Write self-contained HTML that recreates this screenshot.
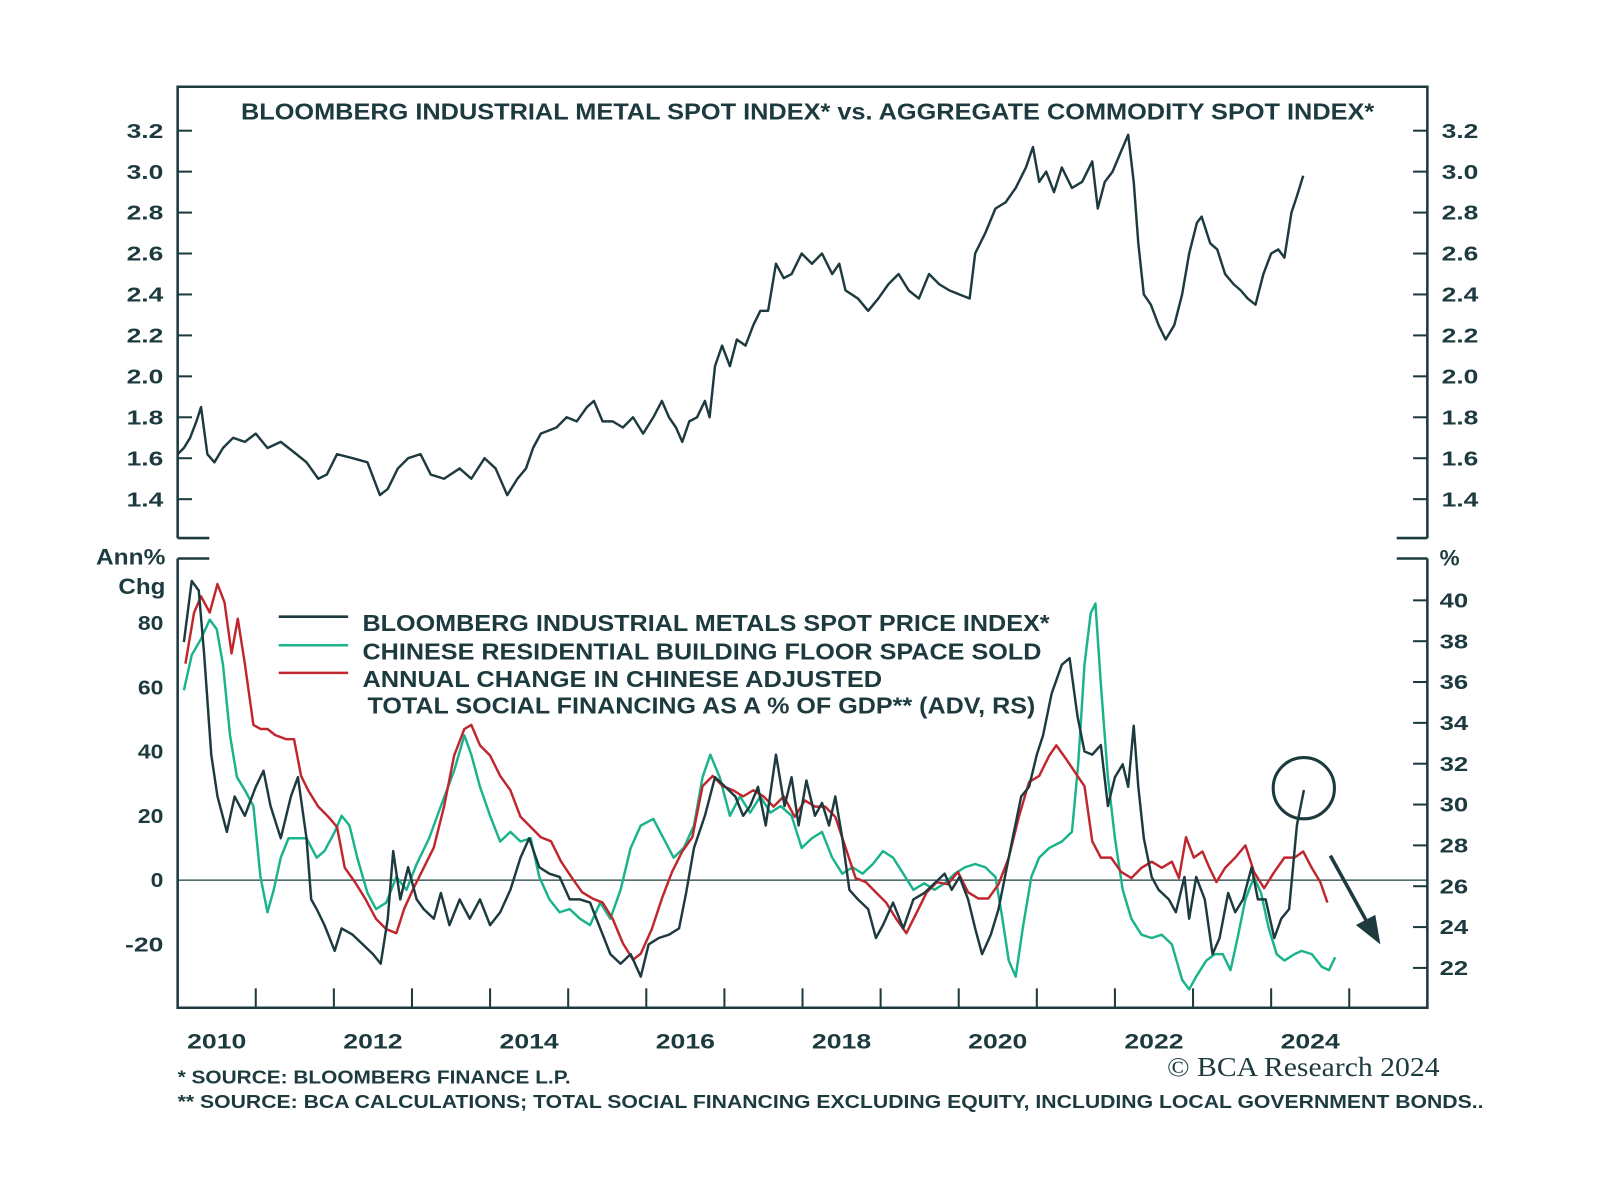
<!DOCTYPE html>
<html><head><meta charset="utf-8"><style>
html,body{margin:0;padding:0;background:#fff;}
svg{display:block;}
text{font-family:"Liberation Sans",sans-serif;fill:#1d3b3f;}
.b{font-weight:bold;}
</style></head><body>
<svg width="1600" height="1177" viewBox="0 0 1600 1177"><g id="chart" transform="scale(1.021)"></g></svg>
<script>
// ---- data ----
const topDates=[2010.00,2010.08,2010.16,2010.24,2010.30,2010.38,2010.47,2010.58,2010.71,2010.86,2011.00,2011.15,2011.32,2011.52,2011.65,2011.80,2011.91,2012.04,2012.24,2012.43,2012.51,2012.59,2012.69,2012.82,2012.95,2013.11,2013.24,2013.41,2013.61,2013.76,2013.93,2014.07,2014.22,2014.35,2014.46,2014.55,2014.65,2014.85,2014.98,2015.11,2015.24,2015.33,2015.44,2015.57,2015.70,2015.83,2015.96,2016.09,2016.20,2016.29,2016.38,2016.46,2016.55,2016.65,2016.75,2016.81,2016.88,2016.97,2017.07,2017.16,2017.27,2017.37,2017.46,2017.56,2017.66,2017.76,2017.86,2017.99,2018.12,2018.25,2018.38,2018.47,2018.55,2018.71,2018.84,2018.97,2019.10,2019.23,2019.36,2019.49,2019.62,2019.75,2019.88,2020.01,2020.14,2020.21,2020.34,2020.47,2020.60,2020.73,2020.86,2020.95,2021.03,2021.12,2021.22,2021.32,2021.45,2021.58,2021.71,2021.78,2021.87,2021.97,2022.08,2022.17,2022.24,2022.30,2022.37,2022.46,2022.56,2022.65,2022.76,2022.86,2022.95,2023.05,2023.11,2023.22,2023.31,2023.41,2023.52,2023.61,2023.70,2023.80,2023.90,2024.00,2024.09,2024.17,2024.26,2024.33,2024.41];
const topValues=[1.62,1.65,1.70,1.78,1.85,1.62,1.58,1.65,1.70,1.68,1.72,1.65,1.68,1.62,1.58,1.50,1.52,1.62,1.60,1.58,1.50,1.42,1.45,1.55,1.60,1.62,1.52,1.50,1.55,1.50,1.60,1.55,1.42,1.50,1.55,1.65,1.72,1.75,1.80,1.78,1.85,1.88,1.78,1.78,1.75,1.80,1.72,1.80,1.88,1.80,1.75,1.68,1.78,1.80,1.88,1.80,2.05,2.15,2.05,2.18,2.15,2.25,2.32,2.32,2.55,2.48,2.50,2.60,2.55,2.60,2.50,2.55,2.42,2.38,2.32,2.38,2.45,2.50,2.42,2.38,2.50,2.45,2.42,2.40,2.38,2.60,2.70,2.82,2.85,2.92,3.02,3.12,2.95,3.00,2.90,3.02,2.92,2.95,3.05,2.82,2.95,3.00,3.10,3.18,2.95,2.65,2.40,2.35,2.25,2.18,2.25,2.40,2.60,2.75,2.78,2.65,2.62,2.50,2.45,2.42,2.38,2.35,2.50,2.60,2.62,2.58,2.80,2.88,2.98];
const metalsDates=[2010.08,2010.18,2010.27,2010.34,2010.43,2010.51,2010.63,2010.73,2010.86,2011.00,2011.10,2011.19,2011.32,2011.45,2011.54,2011.65,2011.71,2011.78,2011.88,2012.01,2012.10,2012.24,2012.37,2012.50,2012.60,2012.69,2012.76,2012.85,2012.95,2013.06,2013.15,2013.28,2013.37,2013.48,2013.61,2013.74,2013.87,2014.00,2014.13,2014.26,2014.39,2014.50,2014.63,2014.76,2014.89,2015.02,2015.15,2015.28,2015.41,2015.54,2015.67,2015.80,2015.93,2016.03,2016.16,2016.29,2016.42,2016.51,2016.61,2016.75,2016.88,2017.01,2017.14,2017.24,2017.33,2017.43,2017.53,2017.66,2017.77,2017.86,2017.95,2018.05,2018.16,2018.25,2018.34,2018.42,2018.51,2018.60,2018.71,2018.84,2018.94,2019.03,2019.16,2019.29,2019.42,2019.56,2019.69,2019.82,2019.91,2020.01,2020.12,2020.21,2020.30,2020.41,2020.51,2020.60,2020.69,2020.80,2020.90,2021.00,2021.08,2021.19,2021.32,2021.42,2021.52,2021.61,2021.71,2021.82,2021.91,2022.00,2022.10,2022.17,2022.24,2022.30,2022.37,2022.47,2022.56,2022.69,2022.78,2022.89,2022.95,2023.04,2023.15,2023.25,2023.34,2023.45,2023.54,2023.64,2023.75,2023.83,2023.93,2024.04,2024.13,2024.23,2024.33,2024.42];
const metalsValues=[74,93,90,70,39,26,15,26,20,29,34,23,13,26,32,13,-6,-9,-14,-22,-15,-17,-20,-23,-26,-12,9,-6,4,-6,-9,-12,-4,-14,-6,-12,-6,-14,-10,-3,7,13,4,2,1,-6,-6,-7,-15,-23,-26,-23,-30,-20,-18,-17,-15,-4,10,20,32,29,26,20,23,29,17,39,23,32,17,31,20,24,17,26,13,-3,-6,-9,-18,-14,-7,-15,-6,-4,-1,2,-3,1,-6,-15,-23,-17,-9,2,13,26,29,39,45,58,67,69,51,40,39,42,23,32,36,29,48,29,13,1,-3,-6,-10,1,-12,1,-6,-23,-18,-4,-10,-6,4,-6,-6,-18,-12,-9,17,28];
const floorDates=[2010.08,2010.18,2010.30,2010.41,2010.50,2010.58,2010.67,2010.76,2010.86,2010.97,2011.06,2011.15,2011.23,2011.32,2011.42,2011.54,2011.65,2011.78,2011.88,2012.01,2012.10,2012.20,2012.30,2012.43,2012.54,2012.67,2012.80,2012.93,2013.06,2013.22,2013.37,2013.54,2013.67,2013.76,2013.87,2014.00,2014.13,2014.26,2014.39,2014.52,2014.63,2014.76,2014.89,2015.02,2015.15,2015.28,2015.41,2015.54,2015.67,2015.80,2015.93,2016.09,2016.22,2016.35,2016.48,2016.61,2016.72,2016.82,2016.94,2017.07,2017.20,2017.33,2017.46,2017.59,2017.72,2017.86,2017.99,2018.12,2018.25,2018.38,2018.51,2018.64,2018.77,2018.90,2019.03,2019.16,2019.29,2019.42,2019.56,2019.69,2019.82,2019.95,2020.08,2020.21,2020.34,2020.47,2020.56,2020.64,2020.73,2020.82,2020.93,2021.03,2021.16,2021.32,2021.45,2021.53,2021.61,2021.69,2021.75,2021.82,2021.91,2022.00,2022.10,2022.21,2022.34,2022.47,2022.60,2022.73,2022.86,2022.95,2023.04,2023.17,2023.28,2023.38,2023.48,2023.57,2023.67,2023.78,2023.87,2023.97,2024.07,2024.17,2024.30,2024.39,2024.52,2024.65,2024.74,2024.82];
const floorValues=[59,70,75,81,78,67,45,32,28,23,1,-10,-3,7,13,13,13,7,9,15,20,17,7,-4,-9,-7,1,-3,5,13,23,34,45,39,29,20,12,15,12,13,1,-6,-10,-9,-12,-14,-7,-12,-3,10,17,19,13,7,10,17,32,39,32,20,26,21,26,21,23,20,10,13,15,7,2,4,2,5,9,7,2,-3,-1,-3,-1,2,4,5,4,1,-12,-25,-30,-15,1,7,10,12,15,36,67,83,86,61,32,13,-3,-12,-17,-18,-17,-20,-31,-34,-30,-25,-23,-23,-28,-18,-6,1,-4,-15,-23,-25,-23,-22,-23,-27,-28,-24];
const tsfDates=[2010.10,2010.21,2010.30,2010.41,2010.51,2010.60,2010.69,2010.77,2010.86,2010.97,2011.06,2011.15,2011.25,2011.39,2011.49,2011.58,2011.67,2011.80,2011.93,2012.04,2012.14,2012.27,2012.40,2012.54,2012.67,2012.80,2012.90,2013.02,2013.15,2013.28,2013.41,2013.54,2013.67,2013.76,2013.87,2014.00,2014.13,2014.26,2014.39,2014.52,2014.65,2014.78,2014.91,2015.05,2015.18,2015.31,2015.44,2015.57,2015.70,2015.83,2015.93,2016.07,2016.20,2016.33,2016.46,2016.59,2016.72,2016.85,2016.98,2017.11,2017.24,2017.37,2017.50,2017.63,2017.76,2017.90,2018.03,2018.16,2018.29,2018.42,2018.55,2018.68,2018.81,2018.94,2019.07,2019.20,2019.33,2019.46,2019.59,2019.72,2019.86,2019.99,2020.12,2020.25,2020.38,2020.51,2020.64,2020.77,2020.90,2021.03,2021.16,2021.25,2021.38,2021.52,2021.61,2021.71,2021.82,2021.95,2022.08,2022.21,2022.34,2022.47,2022.60,2022.73,2022.82,2022.91,2023.01,2023.12,2023.21,2023.30,2023.41,2023.54,2023.67,2023.78,2023.91,2024.04,2024.17,2024.30,2024.41,2024.52,2024.63,2024.72];
const tsfValues=[36.9,39.4,40.2,39.4,40.8,39.9,37.4,39.1,36.9,33.9,33.7,33.7,33.4,33.2,33.2,31.4,30.7,29.9,29.4,28.9,26.9,26.2,25.4,24.4,23.9,23.7,24.9,25.9,26.9,27.9,29.9,32.4,33.7,33.9,32.9,32.4,31.4,30.7,29.4,28.9,28.4,28.2,27.2,26.4,25.7,25.4,25.2,24.4,23.2,22.4,22.7,23.9,25.4,26.7,27.7,28.4,30.9,31.4,30.9,30.7,30.4,30.7,30.4,29.9,30.4,29.4,30.2,29.9,29.9,29.4,27.9,26.4,26.2,25.7,25.2,24.4,23.7,24.7,25.7,26.2,26.1,26.7,25.7,25.4,25.4,26.1,27.4,29.4,31.1,31.4,32.4,32.9,32.2,31.4,30.9,28.2,27.4,27.4,26.7,26.4,26.9,27.2,26.9,27.2,26.4,28.4,27.4,27.7,26.9,26.2,26.9,27.4,28.0,26.7,25.9,26.7,27.4,27.4,27.7,26.9,26.2,25.2];
const topTicks=[1.4,1.6,1.8,2.0,2.2,2.4,2.6,2.8,3.0,3.2];
const leftTicks=[-20,0,20,40,60,80];
const rightTicks=[22,24,26,28,30,32,34,36,38,40];
const yearLabels=[2010,2012,2014,2016,2018,2020,2022,2024];

// ---- axes ----
const L=174,R=1398;
const xS=t=>L+(t-2010)*76.5;
const yTop=v=>128+(3.2-v)/0.2*40.1;
const yLeft=v=>862-v*3.15;
const yRight=v=>948-(v-22)*20;
const NS='http://www.w3.org/2000/svg';
const svg=document.getElementById('chart');
function mk(tag,attrs,parent){const e=document.createElementNS(NS,tag);for(const k in attrs)e.setAttribute(k,attrs[k]);(parent||svg).appendChild(e);return e;}
const C='#1d3b3f';
const FIT='spacingAndGlyphs';

const fr=mk('path',{d:`M${L},527 L${L},85 L${R},85 L${R},527 M${L},527 L205,527 M1368,527 L${R},527 M${L},547 L205,547 M1368,547 L${R},547 M${L},547 L${L},987 L${R},987 L${R},547`,fill:'none',stroke:C,'stroke-width':2.5});



const title=mk('text',{x:236,y:117,'font-size':23,class:'b',textLength:1110,lengthAdjust:FIT});
title.textContent='BLOOMBERG INDUSTRIAL METAL SPOT INDEX* vs. AGGREGATE COMMODITY SPOT INDEX*';



topTicks.forEach(v=>{
  const y=yTop(v);
  const t1=mk('text',{x:124,y:y+7,'font-size':20,class:'b',textLength:36,lengthAdjust:FIT});t1.textContent=v.toFixed(1);
  
  
  const t2=mk('text',{x:1412,y:y+7,'font-size':20,class:'b',textLength:36,lengthAdjust:FIT});t2.textContent=v.toFixed(1);
  
  
  mk('line',{x1:L,x2:L+14,y1:y,y2:y,stroke:C,'stroke-width':2});
  mk('line',{x1:R-14,x2:R,y1:y,y2:y,stroke:C,'stroke-width':2});
});
leftTicks.forEach(v=>{
  const y=yLeft(v);
  const s=String(v);
  const t=mk('text',{x:160,y:y+7,'text-anchor':'end','font-size':20,class:'b',textLength:s.length*12.5,lengthAdjust:FIT});t.textContent=s;
  
  
});
rightTicks.forEach(v=>{
  const y=yRight(v);
  const t=mk('text',{x:1410,y:y+7,'font-size':20,class:'b',textLength:28,lengthAdjust:FIT});t.textContent=v;
  
  
  mk('line',{x1:R-14,x2:R,y1:y,y2:y,stroke:C,'stroke-width':2});
});
[['Ann%',94,553,68],['Chg',116,582,46]].forEach(a=>{const t=mk('text',{x:a[1],y:a[2],'font-size':22,class:'b',textLength:a[3],lengthAdjust:FIT});t.textContent=a[0];
  
  });
const pc=mk('text',{x:1410,y:554,'font-size':22,class:'b'});pc.textContent='%';



for(let yr=2011;yr<=2025;yr++){const x=xS(yr);mk('line',{x1:x,x2:x,y1:987,y2:968,stroke:C,'stroke-width':2});}
yearLabels.forEach(yr=>{const t=mk('text',{x:xS(yr+0.5)-29,y:1027,'font-size':21,class:'b',textLength:58,lengthAdjust:FIT});t.textContent=yr;
  
  });

const zl=mk('line',{x1:L,x2:R,y1:yLeft(0),y2:yLeft(0),stroke:C,'stroke-width':1.3});



function series(dates,vals,ys,color,name,w){
  const d=dates.map((t,i)=>(i?'L':'M')+xS(t).toFixed(1)+','+ys(vals[i]).toFixed(1)).join(' ');
  const p=mk('path',{d:d,fill:'none',stroke:color,'stroke-width':w,'stroke-linejoin':'round'});
  
  
}
series(topDates,topValues,yTop,C,'metal-vs-commodity-line',2.4);
series(floorDates,floorValues,yLeft,'#1ab38c','floor-space-line',2.4);
series(tsfDates,tsfValues,yRight,'#c0262d','tsf-line',2.4);
series(metalsDates,metalsValues,yLeft,C,'metals-yoy-line',2.4);

const leg=[['BLOOMBERG INDUSTRIAL METALS SPOT PRICE INDEX*',C,618,673],['CHINESE RESIDENTIAL BUILDING FLOOR SPACE SOLD','#1ab38c',646,665],['ANNUAL CHANGE IN CHINESE ADJUSTED','#c0262d',673,509]];
leg.forEach(l=>{
  const ln=mk('line',{x1:273,x2:341,y1:l[2]-14,y2:l[2]-14,stroke:l[1],'stroke-width':2.5});
  
  
  const t=mk('text',{x:355,y:l[2],'font-size':23,class:'b',textLength:l[3],lengthAdjust:FIT});t.textContent=l[0];
  
  
});
const l4=mk('text',{x:360,y:699,'font-size':23,class:'b',textLength:654,lengthAdjust:FIT});l4.textContent='TOTAL SOCIAL FINANCING AS A % OF GDP** (ADV, RS)';



const circ=mk('circle',{cx:1277,cy:772,r:30,fill:'none',stroke:C,'stroke-width':3});


const arr=mk('path',{d:'M1303,838 L1340,905',stroke:C,'stroke-width':3.5,fill:'none'});


mk('path',{d:'M1352,925 L1328,906 L1347,896 Z',fill:C});

const f1=mk('text',{x:174,y:1061,'font-size':18,textLength:385,lengthAdjust:FIT,style:'font-weight:600'});f1.textContent='* SOURCE: BLOOMBERG FINANCE L.P.';


const f2=mk('text',{x:174,y:1085,'font-size':18,textLength:1279,lengthAdjust:FIT,style:'font-weight:600'});f2.textContent='** SOURCE: BCA CALCULATIONS; TOTAL SOCIAL FINANCING EXCLUDING EQUITY, INCLUDING LOCAL GOVERNMENT BONDS..';


const cp=mk('text',{x:1143,y:1054,'font-size':27,textLength:267,lengthAdjust:FIT,style:'font-family:"Liberation Serif",serif'});cp.textContent='© BCA Research 2024';


</script>
</body></html>
